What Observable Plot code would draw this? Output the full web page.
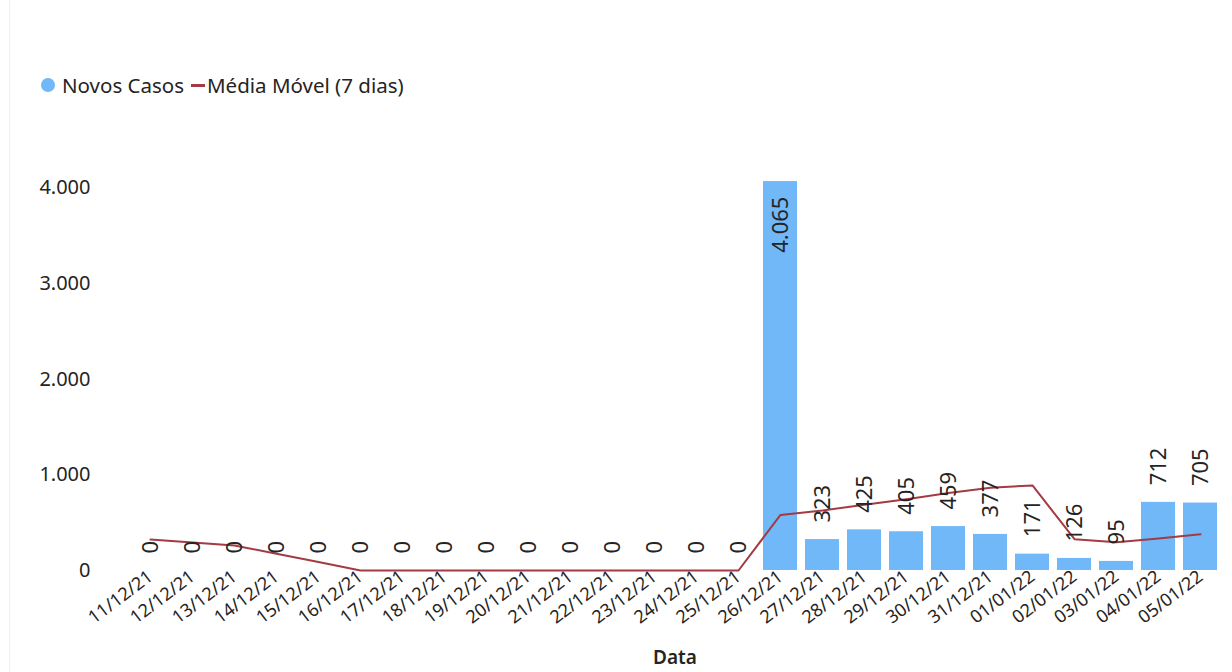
<!DOCTYPE html>
<html><head><meta charset="utf-8">
<script src="https://cdn.jsdelivr.net/npm/d3@7"></script>
<script src="https://cdn.jsdelivr.net/npm/@observablehq/plot@0.6"></script>
<style>
body{margin:0;background:#fff;font-family:"Noto Sans",sans-serif;color:#252423;}
#wrap{width:1232px;height:672px;position:relative;overflow:hidden;background:#fff;}
#edge{position:absolute;left:9px;top:0;width:1px;height:672px;background:#f0f0f0;}
#legend{height:110px;position:relative;font-size:20.5px;}
.dot{position:absolute;left:41px;top:78px;width:14px;height:14px;border-radius:50%;background:#70B8F8;}
.dash{position:absolute;left:191px;top:84px;width:14px;height:3px;background:#A33A44;}
.lt{position:absolute;top:71px;line-height:28px;white-space:nowrap;}
</style></head>
<body><div id="wrap"><div id="edge"></div>
<div id="legend">
  <span class="dot"></span><span class="lt" style="left:62px">Novos Casos</span>
  <span class="dash"></span><span class="lt" style="left:207px">Média Móvel (7 dias)</span>
</div>
<div id="chart"></div></div>
<script>
const datas = ["11/12/21","12/12/21","13/12/21","14/12/21","15/12/21","16/12/21","17/12/21","18/12/21","19/12/21","20/12/21","21/12/21","22/12/21","23/12/21","24/12/21","25/12/21","26/12/21","27/12/21","28/12/21","29/12/21","30/12/21","31/12/21","01/01/22","02/01/22","03/01/22","04/01/22","05/01/22"];
const novosCasos = [0,0,0,0,0,0,0,0,0,0,0,0,0,0,0,4065,323,425,405,459,377,171,126,95,712,705];
const mediaMovel = [323,292,262,175,88,0,0,0,0,0,0,0,0,0,0,581,627,688,745,811,865,889,327,294,335,378];
const yTicks = [0,1000,2000,3000,4000];

const fmt = d3.formatLocale({decimal:",", thousands:".", grouping:[3], currency:["R$",""]}).format(",d");
const rows = datas.map((d,i)=>({data:d, casos:novosCasos[i], media:mediaMovel[i]}));
const font = '"Noto Sans", sans-serif';

const chart = Plot.plot({
  width:1232, height:562,
  marginLeft:123, marginRight:6, marginTop:39, marginBottom:102,
  style:{fontFamily:font, color:"#252423", background:"transparent", overflow:"visible"},
  x:{domain:datas, padding:0.2, label:null},
  y:{domain:[0,4400], label:null},
  marks:[
    Plot.axisY({ticks:yTicks, tickFormat:fmt, tickSize:0, tickPadding:33, label:null, fontSize:20}),
    Plot.axisX({tickRotate:-37, tickSize:0, tickPadding:4, label:null, fontSize:18}),
    Plot.barY(rows, {x:"data", y:"casos", fill:"#70B8F8"}),
    Plot.lineY(rows, {x:"data", y:"media", stroke:"#A33A44", strokeWidth:2}),
    Plot.text(rows.filter(d=>d.casos<3000), {x:"data", y:"casos", text:d=>fmt(d.casos), rotate:-90, textAnchor:"start", dy:-17, fontSize:22, fill:"#252423"}),
    Plot.text(rows.filter(d=>d.casos>=3000), {x:"data", y:"casos", text:d=>fmt(d.casos), rotate:-90, textAnchor:"end", dy:15, fontSize:22, fill:"#252423"}),
    Plot.text(["Data"], {frameAnchor:"bottom", dy:93, fontSize:19, fontWeight:600, fill:"#252423"})
  ]
});
document.getElementById("chart").appendChild(chart);
</script>
</body></html>
